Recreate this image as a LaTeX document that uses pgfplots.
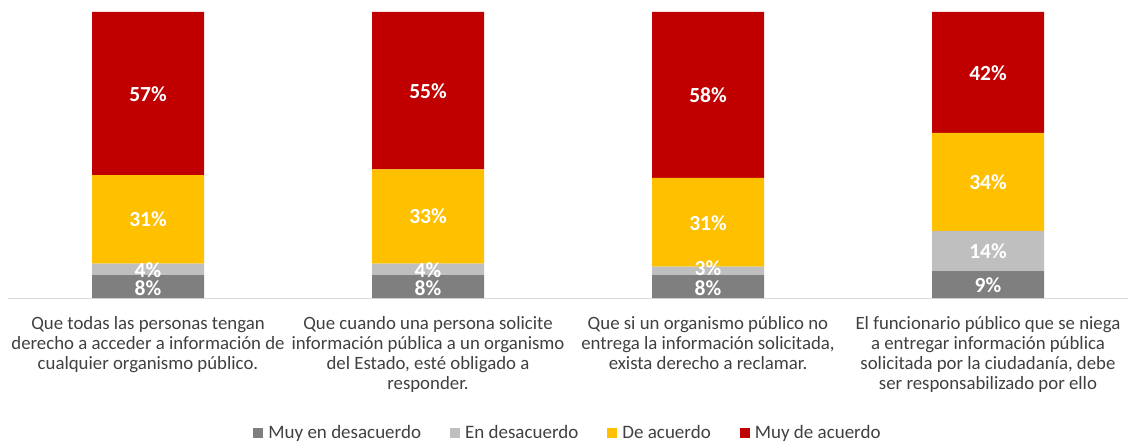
\documentclass[border=0pt]{standalone}
\usepackage{pgfplots}
\pgfplotsset{compat=1.18}
\usepackage{pgfplotstable}
\usepackage{fontspec}
\setmainfont{Carlito}
\definecolor{cMD}{HTML}{7F7F7F}
\definecolor{cED}{HTML}{BFBFBF}
\definecolor{cDA}{HTML}{FFC000}
\definecolor{cMA}{HTML}{C00000}
\definecolor{txt}{HTML}{404040}

\pgfplotstableread{
x y
0 8
1 8
2 8
3 9.4
}\tabMD
\pgfplotstableread{
x y
0 4
1 4
2 3
3 14.1
}\tabED
\pgfplotstableread{
x y
0 31
1 33
2 31
3 34.2
}\tabDA
\pgfplotstableread{
x y
0 57
1 55
2 58
3 42.3
}\tabMA
\pgfplotstableread{
x y lab
0 3.6 8
0 9.9 4
0 27.5 31
0 71.2 57
1 3.6 8
1 9.9 4
1 28.5 33
1 72.2 55
2 3.6 8
2 10.5 3
2 26.2 31
2 70.8 58
3 4.5 9
3 16.3 14
3 40.4 34
3 78.5 42
}\tabLab

\pgfplotsset{
  base/.style={
    at={(0,0)}, anchor=south west,
    scale only axis, width=1120pt, height=286pt,
    xmin=-0.5, xmax=3.5, ymin=0, ymax=100,
    enlargelimits=false,
  },
  sq/.style={legend image code/.code={\fill[##1] (0pt,-5pt) rectangle (10pt,5pt);}},
}

\begin{document}
\begin{tikzpicture}
\begin{axis}[base,
  ybar stacked, bar width=112pt,
  axis y line=none, axis x line*=bottom,
  x axis line style={draw=black!15, line width=1pt, -},
  xtick={0,1,2,3}, major tick length=0pt,
  ytick=\empty,
  xticklabels={
    {Que todas las personas tengan\\derecho a acceder a información de\\cualquier organismo público.},
    {Que cuando una persona solicite\\información pública a un organismo\\del Estado, esté obligado a\\responder.},
    {Que si un organismo público no\\entrega la información solicitada,\\exista derecho a reclamar.},
    {El funcionario público que se niega\\a entregar información pública\\solicitada por la ciudadanía, debe\\ser responsabilizado por ello}},
  xticklabel style={align=center, font=\fontsize{18.8}{20}\selectfont, text=txt, anchor=north, yshift=-15pt},
  legend columns=4,
  legend style={at={(0.5,-0.472)}, anchor=center, draw=none, fill=none,
    font=\fontsize{19}{20}\selectfont, text=txt,
    /tikz/every odd column/.append style={column sep=3pt},
    /tikz/every even column/.append style={column sep=27pt}},
]
\addplot[fill=cMD, draw=none, sq] table[x=x,y=y] {\tabMD};
\addlegendentry{Muy en desacuerdo}
\addplot[fill=cED, draw=none, sq] table[x=x,y=y] {\tabED};
\addlegendentry{En desacuerdo}
\addplot[fill=cDA, draw=none, sq] table[x=x,y=y] {\tabDA};
\addlegendentry{De acuerdo}
\addplot[fill=cMA, draw=none, sq] table[x=x,y=y] {\tabMA};
\addlegendentry{Muy de acuerdo}
\end{axis}
\begin{axis}[base, hide axis]
\addplot[only marks, mark=none, point meta=explicit symbolic,
  nodes near coords={\pgfplotspointmeta\%},
  every node near coord/.append style={anchor=center, text=white, font=\fontsize{21.5}{24}\bfseries\selectfont, inner sep=0pt}]
  table[x=x, y=y, meta=lab] {\tabLab};
\end{axis}
\pgfresetboundingbox
\path (-8pt,-144pt) rectangle (1122pt,298pt);
\end{tikzpicture}
\end{document}
